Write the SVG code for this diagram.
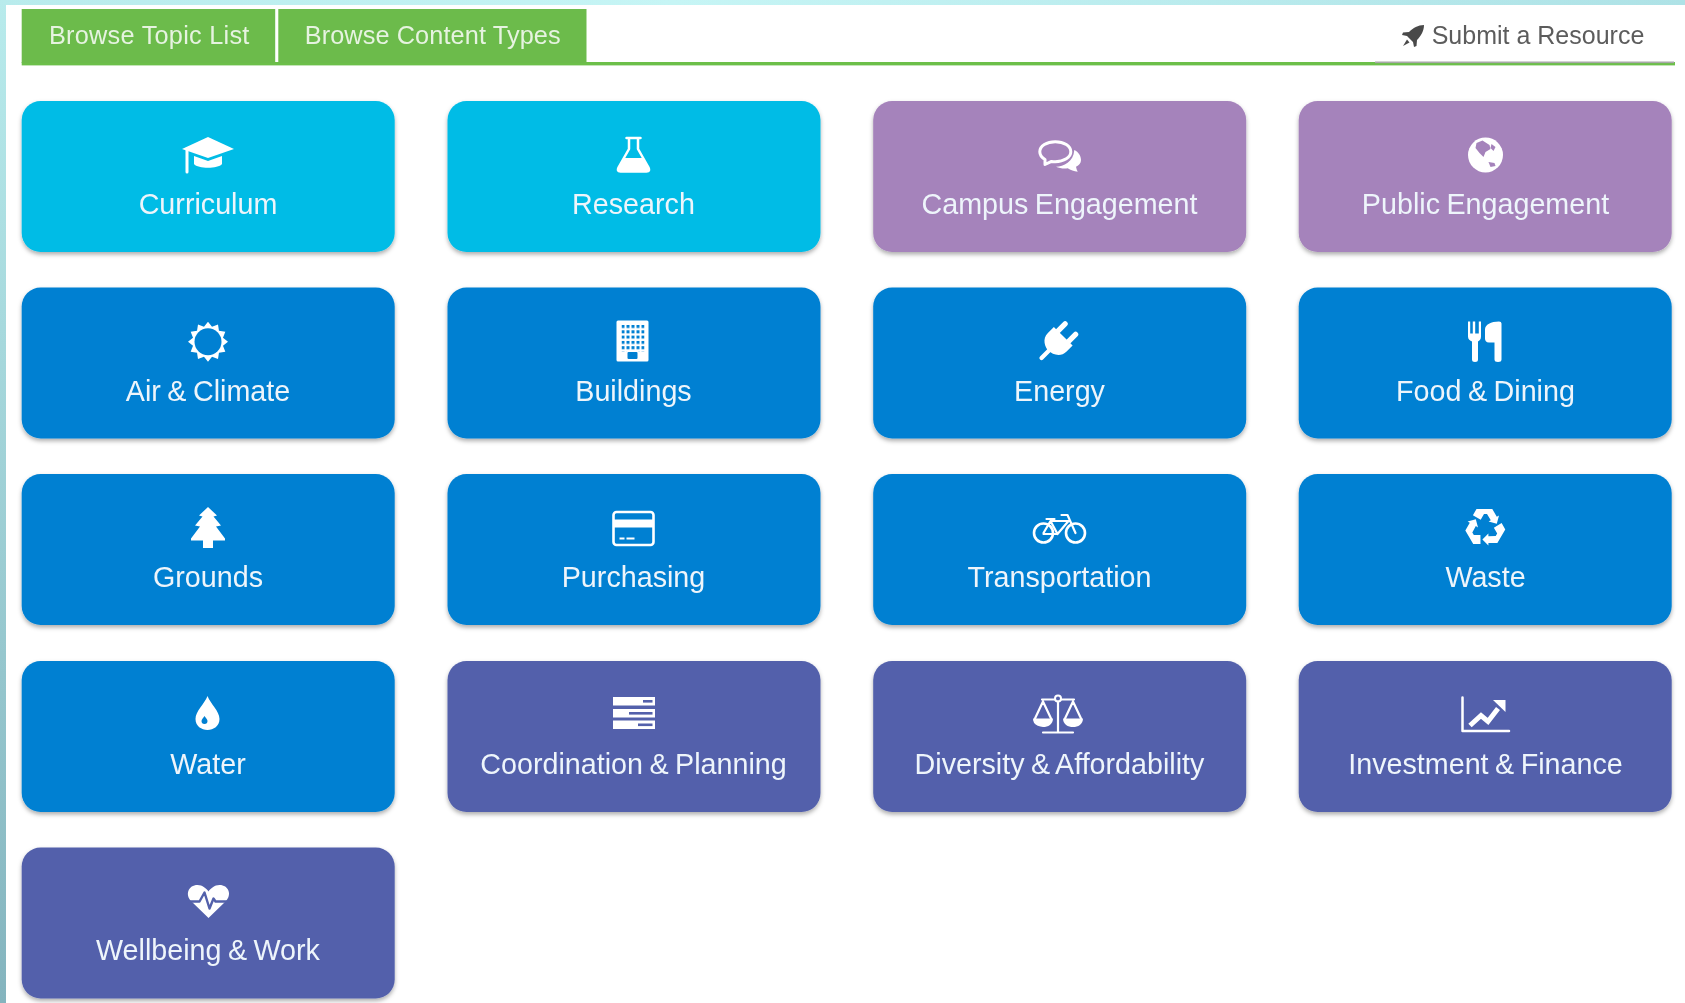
<svg xmlns="http://www.w3.org/2000/svg" width="1685" height="1003" viewBox="0 0 1685 1003">
<style>
text{font-family:"Liberation Sans",Arial,sans-serif}
.label{font-size:28.7px;word-spacing:-1.5px;fill:#eef5fb;text-anchor:middle}
.tab{font-size:25.3px;fill:#e6f3e0;text-anchor:middle}
.card{filter:url(#sh)}
.ic{fill:#fff}
.ln{fill:none;stroke:#fff;stroke-linecap:round;stroke-linejoin:round}
.cyan .card{fill:#00bce6}.cyan .cut{fill:#00bce6}
.blue .card{fill:#0280d2}.blue .cut{fill:#0280d2}
.purple .card{fill:#a583bb}.purple .cut{fill:#a583bb}
.indigo .card{fill:#5361ab}.indigo .cut{fill:#5361ab}
.cutl{fill:none;stroke-linejoin:round;stroke-linecap:round}
.indigo .cutl{stroke:#5361ab}
</style>
<defs>
<linearGradient id="lg" x1="0" y1="0" x2="0" y2="1"><stop offset="0" stop-color="#b8ebec"/><stop offset="1" stop-color="#84b4be"/></linearGradient>
<linearGradient id="tg" x1="0" y1="0" x2="1" y2="0"><stop offset="0" stop-color="#b8ebec"/><stop offset=".4" stop-color="#c6f5f5"/><stop offset="1" stop-color="#aee2e6"/></linearGradient>
<filter id="sh" x="-5%" y="-5%" width="110%" height="115%"><feDropShadow dx="0" dy="2.5" stdDeviation="2.2" flood-color="#000" flood-opacity=".32"/></filter>
<filter id="soft" x="-2%" y="-2%" width="104%" height="104%"><feGaussianBlur stdDeviation=".55"/></filter>
<pattern id="win" x="-11" y="-16" width="5" height="5.3" patternUnits="userSpaceOnUse"><rect width="3" height="3" fill="#0280d2"/></pattern>
<polygon id="rec" points="-12.1,-12.2 -8.5,-18.5 7.3,-18.5 11.8,-10.75 14,-12 11.8,-3.8 3.6,-6 5.8,-7.25 2,-13.5 -1,-13.5 -4.3,-7.75"/>
</defs>
<rect width="1685" height="1003" fill="#fff"/>
<rect x="0" y="0" width="1685" height="5" fill="url(#tg)"/>
<rect x="0" y="0" width="6" height="1003" fill="url(#lg)"/>

<g id="nav" filter="url(#soft)">
<rect x="21.7" y="62" width="1653.300" height="3.4" fill="#6cbf4a"/>
<rect x="1375" y="61.500" width="299" height="1.600" fill="#a8a8a8"/>
<g id="tab-topics"><rect x="21.7" y="9" width="253.5" height="54" fill="#6cbb4b"/><text class="tab" x="149.3" y="44" letter-spacing=".25">Browse Topic List</text></g>
<g id="tab-types"><rect x="278.3" y="9" width="308.2" height="54" fill="#6cbb4b"/><text class="tab" x="432.7" y="44" letter-spacing=".1">Browse Content Types</text></g>
<g id="submit">
<g transform="translate(1413,36)" fill="#4a4a4a"><path d="M11,-11C5,-11 0,-8 -4,-4L-10,-3.500L-11,-1L-6,0L0,6L1,11L3.500,10L4,4C8,0 11,-5 11,-11Z"/><path d="M-6,3.500L-10,10L-3.500,6.500Z"/></g>
<text x="1431.7" y="44" font-size="25" fill="#5c5c5c">Submit a Resource</text>
</g>
</g>

<g filter="url(#soft)">
<g id="curriculum" class="cyan"><rect class="card" x="21.7" y="101" width="373" height="151" rx="19"/>
<g transform="translate(208,155)"><path class="ic" d="M-26,-6L0,-18L26,-6L0,3Z"/><path class="ic" d="M-14,1L0,6L14,1V9C10,14 -10,14 -14,9Z"/><path class="ln" stroke-width="3" d="M-21,-5V17"/></g>
<text class="label" x="208" y="214">Curriculum</text></g>

<g id="research" class="cyan"><rect class="card" x="447.5" y="101" width="373" height="151" rx="19"/>
<g transform="translate(633.5,155)"><path class="ln" stroke-width="2.500" d="M-7,-17H7M-4.500,-17V-6L-15,12.500Q-17,16.500 -13,16.500H13Q17,16.500 15,12.500L4.500,-6V-17"/><path class="ic" d="M-9,3H9L15,12.500Q17,16.500 13,16.500H-13Q-17,16.500 -15,12.500Z"/></g>
<text class="label" x="633.5" y="214">Research</text></g>

<g id="campus-engagement" class="purple"><rect class="card" x="873.2" y="101" width="373" height="151" rx="19"/>
<g transform="translate(1060.5,155)"><path class="ln" stroke-width="3" d="M-5.200,-13.300C-13.800,-13.300 -20.700,-9 -20.700,-3.300C-20.700,0 -18.500,2.700 -15.500,4.500L-15.500,9.500L-9,6.400C-7.700,6.600 -6.500,6.700 -5.200,6.700C3.400,6.700 10.300,2.300 10.300,-3.300C10.300,-9 3.400,-13.300 -5.200,-13.300Z"/><path class="ic" d="M13.800,-5C18,-3 20.500,1 20.500,5C20.500,8 18.500,10.500 15.500,11.700C15.800,13.500 16.500,15.300 17.200,16.700C13.500,16.500 10,15 7.200,13.300C3,13.800 -1,13.300 -4.500,11.700C3,11.500 13,7 13.800,-5Z"/></g>
<text class="label" x="1059.5" y="214">Campus Engagement</text></g>

<g id="public-engagement" class="purple"><rect class="card" x="1298.700" y="101" width="373" height="151" rx="19"/>
<g transform="translate(1485.500,155)"><circle class="ic" r="17.500"/><path class="cut" d="M-9,-12L-3,-14.500L4,-10L5,-6L0,-3L-2,2L-6,-2L-10,-7Z"/><path class="cut" d="M6,-11L10,-8L8,-4L5,-7Z"/><path class="cut" d="M3,7L9,8L10,11L5,12Z"/></g>
<text class="label" x="1485.500" y="214">Public Engagement</text></g>

<g id="air-climate" class="blue"><rect class="card" x="21.700" y="287.500" width="373" height="151" rx="19"/>
<g transform="translate(208,341.700)"><polygon class="ic" points="0,-20 4.010,-14.970 10,-17.320 10.960,-10.960 17.320,-10 14.970,-4.010 20,0 14.970,4.010 17.320,10 10.960,10.960 10,17.320 4.010,14.970 0,20 -4.010,14.970 -10,17.320 -10.960,10.960 -17.320,10 -14.970,4.010 -20,0 -14.970,-4.010 -17.320,-10 -10.960,-10.960 -10,-17.320 -4.010,-14.970"/><circle class="cut" r="13.500"/></g>
<text class="label" x="208" y="400.500">Air &amp; Climate</text></g>

<g id="buildings" class="blue"><rect class="card" x="447.500" y="287.500" width="373" height="151" rx="19"/>
<g transform="translate(632.500,341)"><rect class="ic" x="-16" y="-20.500" width="32" height="41" rx="1.500"/><rect x="-11" y="-16" width="23" height="26.500" fill="url(#win)"/><rect class="ic" x="-6" y="9" width="12" height="3"/><rect class="cut" x="-5" y="11" width="10" height="7" rx="1"/></g>
<text class="label" x="633.500" y="400.500">Buildings</text></g>

<g id="energy" class="blue"><rect class="card" x="873.200" y="287.500" width="373" height="151" rx="19"/>
<g transform="translate(1056.500,343) rotate(45) scale(1.06)"><rect class="ic" x="-9.500" y="-21" width="5" height="16" rx="2.500"/><rect class="ic" x="4.500" y="-21" width="5" height="16" rx="2.500"/><path class="ic" d="M-12.500,-9H12.500V-1C12.500,7 5,10.500 0,10.500C-5,10.500 -12.500,7 -12.500,-1Z"/><rect class="ic" x="-2" y="8" width="4" height="14" rx="2"/></g>
<text class="label" x="1059.500" y="400.500">Energy</text></g>

<g id="food-dining" class="blue"><rect class="card" x="1298.700" y="287.500" width="373" height="151" rx="19"/>
<g transform="translate(1485,341.500)"><path class="ic" d="M-17,-20H-14.800V-8H-12.200V-20H-9.800V-8H-6.200V-20H-4V-5C-4,-2 -5.500,-1 -7,0V18Q-7,20.500 -10,20.500Q-13,20.500 -13,18V0C-15,-1 -17,-2 -17,-5Z"/><path class="ic" d="M0,-12C0,-17 6,-20 14,-20Q16.500,-20 16.500,-18V18Q16.500,20.500 13,20.500Q9.500,20.500 9.500,18V1H4C1,1 0,-1 0,-3Z"/></g>
<text class="label" x="1485.500" y="400.500">Food &amp; Dining</text></g>

<g id="grounds" class="blue"><rect class="card" x="21.700" y="474" width="373" height="151" rx="19"/>
<g transform="translate(208,527.500)"><path class="ic" d="M0,-20.500L9,-12L5.500,-11L13,-2L8,-1L17,11V13H5V20.500H-5V13H-17V11L-8,-1L-13,-2L-5.500,-11L-9,-12Z"/></g>
<text class="label" x="208" y="587">Grounds</text></g>

<g id="purchasing" class="blue"><rect class="card" x="447.500" y="474" width="373" height="151" rx="19"/>
<g transform="translate(633.500,528.500)"><rect class="ln" stroke-width="2.600" x="-20" y="-16.500" width="40" height="33" rx="3"/><rect class="ic" x="-20" y="-9" width="40" height="8"/><rect class="ic" x="-14" y="9" width="5" height="2"/><rect class="ic" x="-7" y="9" width="8" height="2"/></g>
<text class="label" x="633.500" y="587">Purchasing</text></g>

<g id="transportation" class="blue"><rect class="card" x="873.200" y="474" width="373" height="151" rx="19"/>
<g transform="translate(1059.500,528)"><circle class="ln" stroke-width="2.600" cx="-16" cy="5" r="9.500"/><circle class="ln" stroke-width="2.600" cx="16" cy="5" r="9.500"/><path class="ln" stroke-width="2.200" d="M-16,5L-9,-7H9L-2,6H-16M-9,-7L-2,6M-13,-9H-5M16,5L8,-13H2"/></g>
<text class="label" x="1059.500" y="587">Transportation</text></g>

<g id="waste" class="blue"><rect class="card" x="1298.700" y="474" width="373" height="151" rx="19"/>
<g transform="translate(1485,527.500)"><use href="#rec" class="ic"/><use href="#rec" class="ic" transform="rotate(120)"/><use href="#rec" class="ic" transform="rotate(240)"/></g>
<text class="label" x="1485.500" y="587">Waste</text></g>

<g id="water" class="blue"><rect class="card" x="21.700" y="661" width="373" height="151" rx="19"/>
<g transform="translate(207.500,713)"><path class="ic" d="M0,-17C3,-9 12,-2 12,6C12,13 6,17 0,17C-6,17 -12,13 -12,6C-12,-2 -3,-9 0,-17Z"/><path class="cut" d="M-3,3C-2,5 0,6 0,8A3,3 0 0 1 -6,8C-6,6 -4,5 -3,3Z"/></g>
<text class="label" x="208" y="773.500">Water</text></g>

<g id="coordination-planning" class="indigo"><rect class="card" x="447.500" y="661" width="373" height="151" rx="19"/>
<g transform="translate(634,713)"><rect class="ic" x="-21" y="-16" width="42" height="8.500"/><rect class="ic" x="-21" y="-4" width="42" height="8.500"/><rect class="ic" x="-21" y="7.500" width="42" height="8.500"/><rect class="cut" x="9" y="-13" width="9.500" height="2.600"/><rect class="cut" x="-5" y="-1" width="23.500" height="2.600"/><rect class="cut" x="4" y="10.500" width="14.500" height="2.600"/></g>
<text class="label" x="633.500" y="773.500">Coordination &amp; Planning</text></g>

<g id="diversity-affordability" class="indigo"><rect class="card" x="873.200" y="661" width="373" height="151" rx="19"/>
<g transform="translate(1058,714.500)"><path class="ln" stroke-width="2.200" d="M0,-13V18M-15,18H15M-16,-15H-3M3,-15H16M-15,-13L-23,4M-15,-13L-7,4M15,-13L7,4M15,-13L23,4"/><circle class="ln" stroke-width="2" cx="0" cy="-16" r="3"/><path class="ic" d="M-25,4H-5C-5,10 -10,12.500 -15,12.500C-20,12.500 -25,10 -25,4Z"/><path class="ic" d="M5,4H25C25,10 20,12.500 15,12.500C10,12.500 5,10 5,4Z"/></g>
<text class="label" x="1059.500" y="773.500">Diversity &amp; Affordability</text></g>

<g id="investment-finance" class="indigo"><rect class="card" x="1298.700" y="661" width="373" height="151" rx="19"/>
<g transform="translate(1485,714.500)"><path class="ln" stroke-width="2.500" stroke-linecap="butt" d="M-22.500,-17V16.500H24"/><path d="M-15,11L-4,1L3,7L13,-6" fill="none" stroke="#fff" stroke-width="5"/><path class="ic" d="M8,-14.500H20.500V-2.500Z"/></g>
<text class="label" x="1485.500" y="773.500">Investment &amp; Finance</text></g>

<g id="wellbeing-work" class="indigo"><rect class="card" x="21.700" y="847.500" width="373" height="151" rx="19"/>
<g transform="translate(208.500,901.500)"><path class="ic" d="M0,16.500L-17,0C-24,-7 -20,-16.500 -11,-16.500C-6,-16.500 -2,-13 0,-10C2,-13 6,-16.500 11,-16.500C20,-16.500 24,-7 17,0Z"/><path class="cutl" stroke-width="2.400" d="M-21,0H-9L-4,-9L1,7L5,-3L7,0H21"/></g>
<text class="label" x="208" y="960">Wellbeing &amp; Work</text></g>
</g>
</svg>
